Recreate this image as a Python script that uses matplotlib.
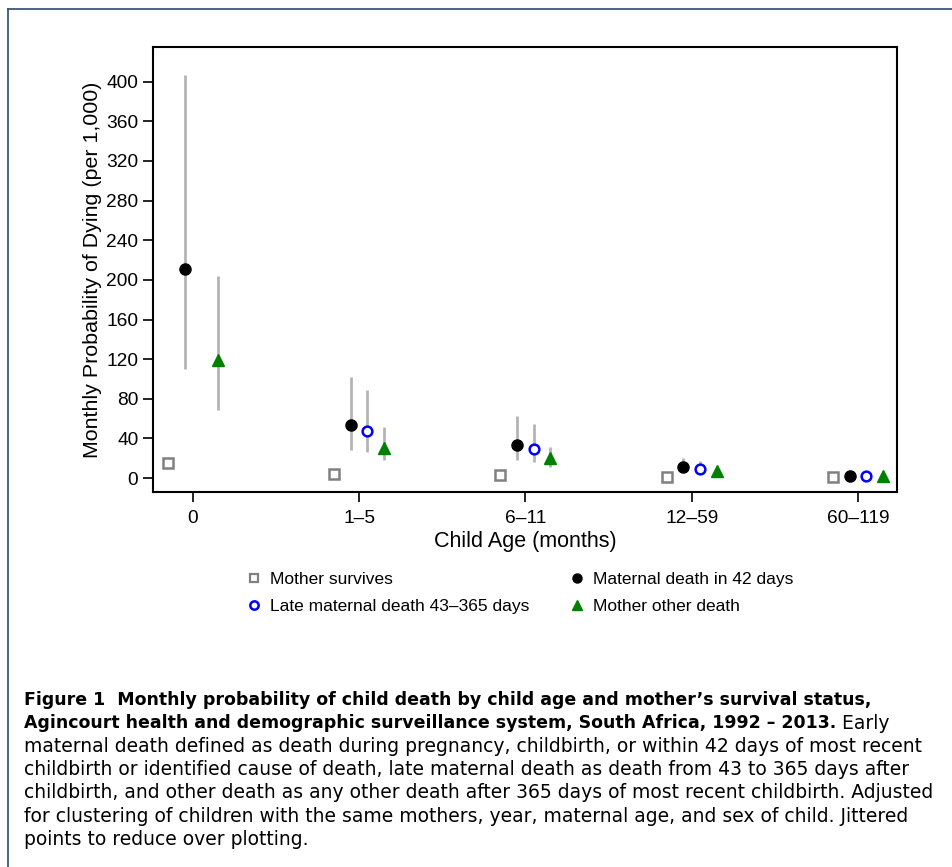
import matplotlib
matplotlib.use("Agg")
import matplotlib.pyplot as plt
import numpy as np
from matplotlib.lines import Line2D

plt.rcParams['font.family'] = ['Liberation Sans', 'DejaVu Sans']

categories = ["0", "1\u20135", "6\u201311", "12\u201359", "60\u2013119"]
series = ["Mother survives", "Maternal death in 42 days",
          "Late maternal death 43\u2013365 days", "Mother other death"]

surv_val = [15, 4, 3, 1, 1]
surv_lo = [13, 3, 2, 0.5, 0.5]
surv_hi = [17, 5, 4, 1.5, 1.5]

early_val = [211, 53.5, 33, 11, 2]
early_lo = [110, 28, 18, 6, 1]
early_hi = [407, 102, 62.5, 20, 3]

late_val = [np.nan, 47.5, 29, 9, 2]
late_lo = [np.nan, 26, 16, 5, 1]
late_hi = [np.nan, 89, 54.5, 17, 3]

other_val = [119, 30, 20, 7, 2]
other_lo = [69, 18, 11, 5, 1]
other_hi = [204, 51.5, 31, 9, 3]

fig = plt.figure(figsize=(9.53, 8.67), dpi=100)
ax = fig.add_axes([0.1605, 0.4325, 0.7807, 0.5133])

x = np.arange(len(categories))
ci_color = "#b4b4b4"
styles = [
    (surv_val, surv_lo, surv_hi, -0.15, dict(marker='s', ms=6.5, mfc='white', mec='#808080', mew=1.8, color='none')),
    (early_val, early_lo, early_hi, -0.05, dict(marker='o', ms=8, mfc='black', mec='black', color='none')),
    (late_val, late_lo, late_hi, 0.05, dict(marker='o', ms=7, mfc='white', mec='#0000ff', mew=1.8, color='none')),
    (other_val, other_lo, other_hi, 0.15, dict(marker='^', ms=9, mfc='#008000', mec='#008000', color='none')),
]
for val, lo, hi, off, st in styles:
    xs = x + off
    ax.vlines(xs, lo, hi, colors=ci_color, lw=2, zorder=1)
    ax.plot(xs, val, linestyle='none', zorder=3, **st)

ax.set_xlim(-0.24, 4.235)
ax.set_ylim(-14, 435)
ax.set_yticks(np.arange(0, 401, 40))
ax.set_xticks(x)
ax.set_xticklabels(categories)
ax.tick_params(axis='both', direction='out', length=7, width=1.2, labelsize=13.8, colors='black')
ax.tick_params(axis='x', pad=6)
for s in ax.spines.values():
    s.set_linewidth(1.5)
ax.set_xlabel("Child Age (months)", fontsize=15.5, labelpad=3)
ax.set_ylabel("Monthly Probability of Dying (per 1,000)", fontsize=15.4, labelpad=3)

handles = [
    Line2D([], [], linestyle='none', marker='s', ms=6, mfc='white', mec='#808080', mew=1.6),
    Line2D([], [], linestyle='none', marker='o', ms=6, mfc='white', mec='#0000ff', mew=1.8),
    Line2D([], [], linestyle='none', marker='o', ms=6.5, mfc='black', mec='black'),
    Line2D([], [], linestyle='none', marker='^', ms=7.5, mfc='#008000', mec='#008000'),
]
labels = [series[0], series[2], series[1], series[3]]
fig.legend(handles, labels, ncol=2, loc='center', bbox_to_anchor=(0.545, 0.316),
           frameon=False, fontsize=12.5, handletextpad=0.45, columnspacing=2.2,
           labelspacing=0.68, handlelength=1.0)

# figure border lines (top and left)
fig.add_artist(Line2D([0.0084, 1.0], [0.9896, 0.9896], transform=fig.transFigure, color='#2e4a6a', lw=1.2))
fig.add_artist(Line2D([0.0084, 0.0084], [0.0, 0.9896], transform=fig.transFigure, color='#2e4a6a', lw=1.2))

# caption
cap_font = ['DejaVu Sans']
fs = 13.5
fsb = 12.5
x0 = 0.0252
line_h = 23.2 / 867
y0 = 1 - 700 / 867
bold_lines = ["Figure 1  Monthly probability of child death by child age and mother\u2019s survival status,",
              "Agincourt health and demographic surveillance system, South Africa, 1992 \u2013 2013."]
normal_lines = ["maternal death defined as death during pregnancy, childbirth, or within 42 days of most recent",
                "childbirth or identified cause of death, late maternal death as death from 43 to 365 days after",
                "childbirth, and other death as any other death after 365 days of most recent childbirth. Adjusted",
                "for clustering of children with the same mothers, year, maternal age, and sex of child. Jittered",
                "points to reduce over plotting."]
fig.text(x0, y0, bold_lines[0], fontsize=fsb, fontweight='bold', family=cap_font, va='center')
t = fig.text(x0, y0 - line_h, bold_lines[1], fontsize=fsb, fontweight='bold', family=cap_font, va='center')
fig.canvas.draw()
r = fig.canvas.get_renderer()
bb = t.get_window_extent(r)
xe = bb.x1 / fig.bbox.width
fig.text(xe, y0 - line_h, " Early", fontsize=fs, family=cap_font, va='center')
for i, ln in enumerate(normal_lines):
    fig.text(x0, y0 - (i + 2) * line_h, ln, fontsize=fs, family=cap_font, va='center')

fig.savefig("out.png", dpi=100)
